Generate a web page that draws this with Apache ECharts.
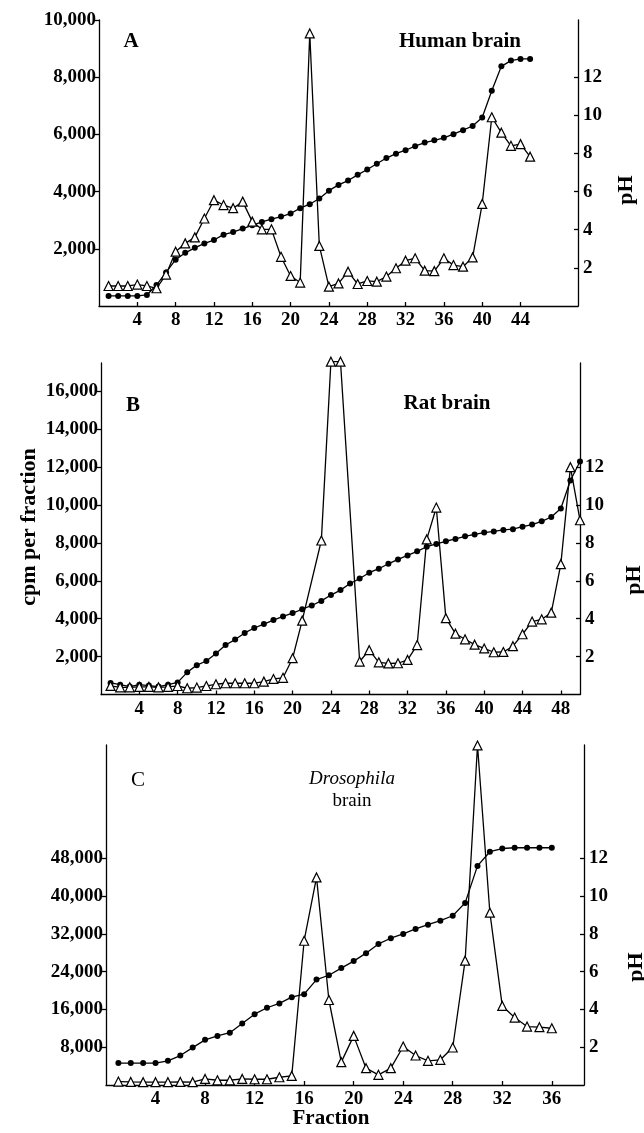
<!DOCTYPE html>
<html>
<head>
<meta charset="utf-8">
<script src="https://cdn.jsdelivr.net/npm/echarts@6/dist/echarts.min.js"></script>
<style>
  html, body { margin: 0; padding: 0; background: #fff; }
  #chart { width: 644px; height: 1133px; }
</style>
</head>
<body>
<div id="chart"></div>
<script>
// A: human brain
var fracA = [1,2,3,4,5,6,7,8,9,10,11,12,13,14,15,16,17,18,19,20,21,22,23,24,25,26,27,28,29,30,31,32,33,34,35,36,37,38,39,40,41,42,43,44,45]
var cpmA = [700,700,700,750,700,620,1100,1900,2190,2400,3060,3700,3530,3420,3650,2950,2680,2680,1720,1050,820,9530,2100,675,790,1200,770,875,850,1030,1320,1585,1670,1235,1220,1670,1430,1375,1700,3570,6600,6060,5600,5660,5220]
var phA = [0.53,0.53,0.53,0.53,0.58,1.1,1.76,2.43,2.79,3.05,3.28,3.46,3.74,3.88,4.06,4.23,4.41,4.55,4.69,4.85,5.13,5.34,5.64,6.05,6.35,6.58,6.88,7.16,7.46,7.76,7.99,8.17,8.38,8.57,8.69,8.82,9.01,9.22,9.44,9.89,11.29,12.57,12.87,12.96,12.96]

// B: rat brain (fractions 22 and 26 have no cpm point)
var fracB = [1,2,3,4,5,6,7,8,9,10,11,12,13,14,15,16,17,18,19,20,21,22,23,24,25,26,27,28,29,30,31,32,33,34,35,36,37,38,39,40,41,42,43,44,45,46,47,48,49,50]
var cpmB = [454,380,380,400,400,380,400,450,330,365,450,540,595,595,595,595,680,820,880,1915,3900,null,8130,17570,17570,null,1740,2340,1700,1640,1650,1825,2610,8190,9870,4030,3210,2915,2630,2430,2230,2245,2550,3180,3850,3970,4320,6880,12000,9200]
var phB = [0.61,0.52,0.42,0.52,0.47,0.42,0.52,0.64,1.17,1.55,1.77,2.16,2.61,2.9,3.25,3.51,3.72,3.93,4.12,4.3,4.5,4.7,4.94,5.25,5.51,5.86,6.12,6.43,6.64,6.9,7.13,7.34,7.56,7.8,7.95,8.09,8.21,8.35,8.45,8.55,8.61,8.69,8.73,8.86,8.97,9.14,9.37,9.82,11.3,12.3]

// C: drosophila brain
var fracC = [1,2,3,4,5,6,7,8,9,10,11,12,13,14,15,16,17,18,19,20,21,22,23,24,25,26,27,28,29,30,31,32,33,34,35,36]
var cpmC = [730,650,600,600,600,650,600,1290,1010,1010,1290,1220,1220,1640,1925,30550,43960,18000,4840,10400,3560,2150,3560,8150,6250,5120,5330,7940,26330,71900,36490,16740,14280,12380,12240,12020]
var phC = [1.16,1.16,1.16,1.16,1.28,1.56,1.98,2.39,2.6,2.77,3.26,3.75,4.09,4.32,4.65,4.81,5.58,5.81,6.19,6.56,6.98,7.47,7.77,8.0,8.26,8.49,8.7,8.96,9.64,11.6,12.35,12.52,12.56,12.56,12.56,12.56]

var xTicksA = [4,8,12,16,20,24,28,32,36,40,44]
var xTicksB = [4,8,12,16,20,24,28,32,36,40,44,48]
var xTicksC = [4,8,12,16,20,24,28,32,36]
var cpmTicksA = [2000,4000,6000,8000,10000]
var cpmTicksB = [2000,4000,6000,8000,10000,12000,14000,16000]
var cpmTicksC = [8000,16000,24000,32000,40000,48000]
var phTicks = [2,4,6,8,10,12]

var FONT = 'Liberation Serif'
var labelStyle = { color: '#000', fontFamily: FONT, fontSize: 19, fontWeight: 'bold' }
var lineStyle = { color: '#000', width: 1.3 }

var grids = [], xAxes = [], yAxes = [], series = []

function addPanel(frac, cpm, ph, box) {
  var gi = grids.length
  grids.push({ left: box.left, top: box.top, width: box.width, height: box.height })
  xAxes.push({
    type: 'value', gridIndex: gi, min: 0, max: box.xMax,
    axisLine: { lineStyle: lineStyle },
    axisTick: { inside: true, length: 4, lineStyle: lineStyle, customValues: box.xTicks },
    axisLabel: Object.assign({ margin: 5, customValues: box.xTicks }, labelStyle),
    splitLine: { show: false }
  })
  yAxes.push({
    type: 'value', gridIndex: gi, position: 'left', min: 0, max: box.cpmMax,
    axisLine: { show: true, lineStyle: lineStyle },
    axisTick: { show: true, length: 4, lineStyle: lineStyle, customValues: box.cpmTicks },
    axisLabel: Object.assign({
      margin: 3, customValues: box.cpmTicks,
      formatter: function (v) { return v.toLocaleString('en-US') }
    }, labelStyle),
    splitLine: { show: false }
  })
  yAxes.push({
    type: 'value', gridIndex: gi, position: 'right', min: 0, max: box.phMax,
    axisLine: { show: true, lineStyle: lineStyle },
    axisTick: { show: true, inside: true, length: 4, lineStyle: lineStyle, customValues: phTicks },
    axisLabel: Object.assign({ margin: 5, customValues: phTicks }, labelStyle),
    splitLine: { show: false }
  })
  var yi = yAxes.length
  series.push({
    type: 'line', xAxisIndex: gi, yAxisIndex: yi - 1,
    data: frac.map(function (f, i) { return [f, ph[i]] }),
    symbol: 'circle', symbolSize: 6, clip: false,
    itemStyle: { color: '#000' },
    lineStyle: lineStyle
  })
  series.push({
    type: 'line', xAxisIndex: gi, yAxisIndex: yi - 2,
    data: frac.map(function (f, i) { return [f, cpm[i]] }),
    connectNulls: true,
    symbol: 'triangle', symbolSize: 9, clip: false,
    itemStyle: { color: '#fff', borderColor: '#000', borderWidth: 1.2 },
    lineStyle: lineStyle
  })
}

addPanel(fracA, cpmA, phA, { left: 99, top: 20, width: 479, height: 286, xMax: 50, cpmMax: 10000, phMax: 15, xTicks: xTicksA, cpmTicks: cpmTicksA })
addPanel(fracB, cpmB, phB, { left: 101, top: 363, width: 479, height: 331.5, xMax: 50, cpmMax: 17500, phMax: 17.5, xTicks: xTicksB, cpmTicks: cpmTicksB })
addPanel(fracC, cpmC, phC, { left: 106, top: 745, width: 478, height: 340, xMax: 38.6, cpmMax: 72000, phMax: 18, xTicks: xTicksC, cpmTicks: cpmTicksC })

function txt(x, y, s, font, rotation) {
  return {
    type: 'text', x: x, y: y, rotation: rotation || 0,
    style: {
      text: s, fill: '#000', font: font + ' ' + FONT,
      textAlign: 'center', textVerticalAlign: 'middle'
    }
  }
}

var chart = echarts.init(document.getElementById('chart'))
chart.setOption({
  animation: false,
  grid: grids,
  xAxis: xAxes,
  yAxis: yAxes,
  series: series,
  graphic: [
    txt(131, 42, 'A', 'bold 21px'),
    txt(460, 42, 'Human brain', 'bold 21px'),
    txt(133, 406, 'B', 'bold 21px'),
    txt(447, 404, 'Rat brain', 'bold 21px'),
    txt(138, 780, 'C', '21px'),
    txt(352, 779, 'Drosophila', 'italic 19px'),
    txt(352, 801, 'brain', '19px'),
    txt(29, 527, 'cpm per fraction', 'bold 22px', Math.PI / 2),
    txt(626, 190, 'pH', 'bold 22px', Math.PI / 2),
    txt(634, 580, 'pH', 'bold 22px', Math.PI / 2),
    txt(636, 967, 'pH', 'bold 22px', Math.PI / 2),
    txt(331, 1119, 'Fraction', 'bold 21px')
  ]
})
</script>
</body>
</html>
